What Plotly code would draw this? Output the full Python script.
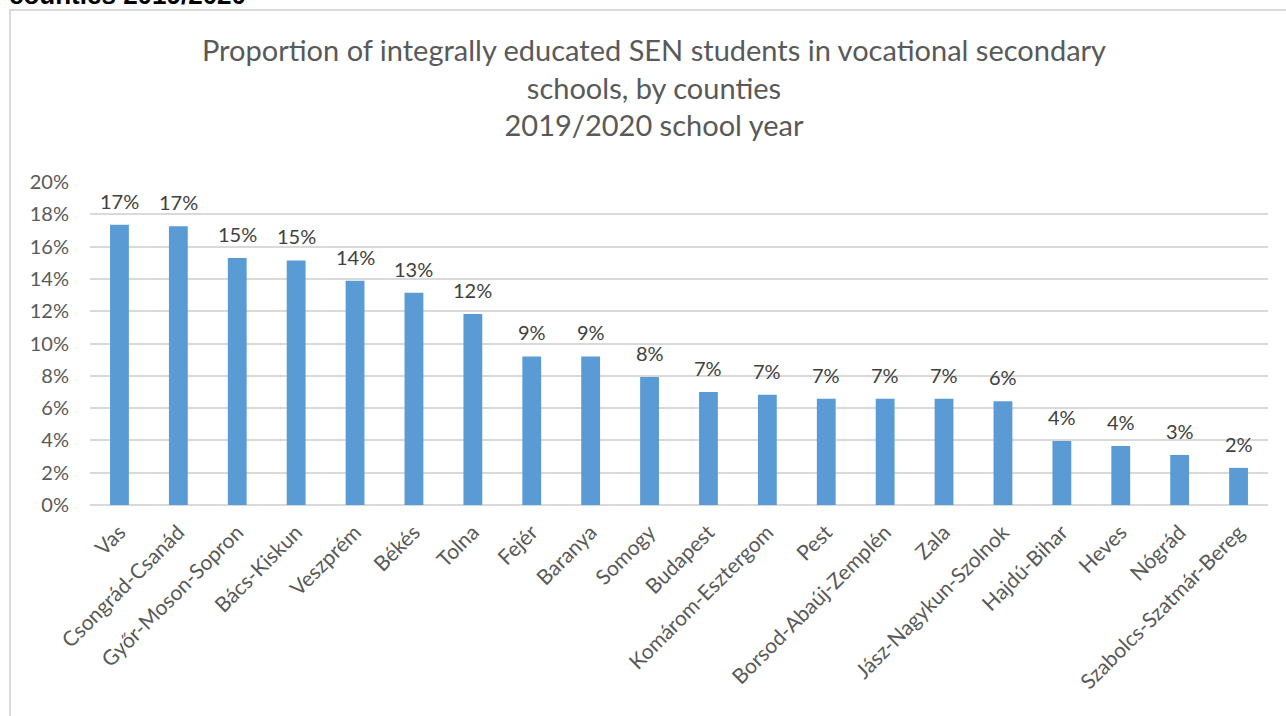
import plotly.graph_objects as go

# Counties and share of integrally educated SEN students (vocational secondary schools)
counties = [
    "Vas", "Csongrád-Csanád", "Győr-Moson-Sopron", "Bács-Kiskun", "Veszprém",
    "Békés", "Tolna", "Fejér", "Baranya", "Somogy", "Budapest",
    "Komárom-Esztergom", "Pest", "Borsod-Abaúj-Zemplén", "Zala",
    "Jász-Nagykun-Szolnok", "Hajdú-Bihar", "Heves", "Nógrád",
    "Szabolcs-Szatmár-Bereg",
]
shares = [
    0.1735, 0.1726, 0.1529, 0.1514, 0.1389,
    0.1315, 0.1183, 0.0920, 0.0920, 0.0792, 0.0699,
    0.0683, 0.0658, 0.0658, 0.0658,
    0.0642, 0.0397, 0.0366, 0.0310,
    0.0230,
]
y_ticks = [0, 0.02, 0.04, 0.06, 0.08, 0.10, 0.12, 0.14, 0.16, 0.18, 0.20]
y_tick_labels = ["0%", "2%", "4%", "6%", "8%", "10%", "12%", "14%", "16%", "18%", "20%"]

W, H = 1286, 716
M_L, M_R, M_T, M_B = 90, 18, 182, 211
plot_w = W - M_L - M_R
plot_h = H - M_T - M_B


def px_x(p):
    return (p - M_L) / plot_w


def px_y(p):
    return (H - M_B - p) / plot_h


FONT = "Lato, Carlito, Calibri, sans-serif"
GRID = "#d9d9d9"

fig = go.Figure(
    go.Bar(
        x=counties,
        y=shares,
        marker=dict(color="#5b9bd5", line=dict(width=0)),
        cliponaxis=False,
    )
)

# value labels sitting above each bar
value_labels = [
    dict(
        x=c, y=v, xref="x", yref="y",
        text=f"{v:.0%}",
        xanchor="center", yanchor="bottom", yshift=10,
        showarrow=False,
        font=dict(family=FONT, size=20, color="#404040"),
    )
    for c, v in zip(counties, shares)
]

fig.update_layout(
    width=W,
    height=H,
    margin=dict(l=M_L, r=M_R, t=M_T, b=M_B),
    paper_bgcolor="white",
    plot_bgcolor="white",
    bargap=0.68,
    showlegend=False,
    title=dict(
        text="Proportion of integrally educated SEN students in vocational secondary<br>"
             "schools, by counties<br>2019/2020 school year",
        font=dict(family=FONT, size=29, color="#595959"),
        x=654 / W,
        xanchor="center",
        y=1 - 61 / H,
        yanchor="top",
    ),
    xaxis=dict(
        tickangle=-45,
        tickfont=dict(family=FONT, size=21, color="#595959"),
        showgrid=False,
        showline=False,
        ticks="",
        ticklabelstandoff=10,
    ),
    yaxis=dict(
        range=[0, 0.2],
        tickvals=y_ticks,
        ticktext=y_tick_labels,
        tickfont=dict(family=FONT, size=20, color="#595959"),
        showgrid=True,
        gridcolor=GRID,
        gridwidth=1.5,
        zeroline=True,
        zerolinecolor=GRID,
        zerolinewidth=1.5,
        showline=False,
        ticks="",
        ticklabelstandoff=20,
    ),
    shapes=[
        # chart frame
        dict(
            type="rect", xref="paper", yref="paper",
            x0=px_x(10), x1=px_x(W + 10), y0=px_y(H + 10), y1=px_y(10),
            line=dict(color=GRID, width=2), fillcolor="rgba(0,0,0,0)",
            layer="below",
        )
    ],
    annotations=value_labels + [
        dict(
            text="<b>counties 2019/2020</b>",
            xref="paper", yref="paper",
            x=px_x(7), y=px_y(12),
            xanchor="left", yanchor="bottom",
            showarrow=False,
            font=dict(family="Arial, Liberation Sans, sans-serif", size=26, color="#000000"),
        )
    ],
)

fig.write_html("out.html")
